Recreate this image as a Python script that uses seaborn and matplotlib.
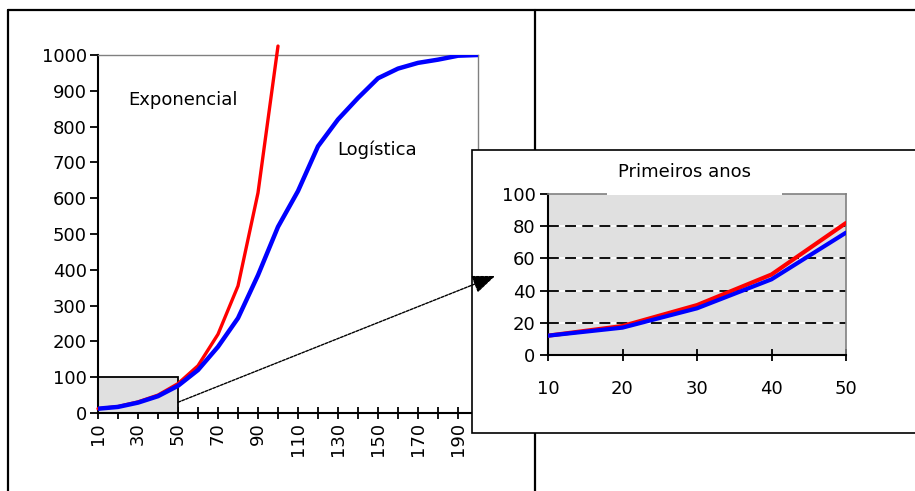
import matplotlib
matplotlib.use('Agg')
import matplotlib.pyplot as plt
from matplotlib.patches import Rectangle, ConnectionPatch
from matplotlib.lines import Line2D
import seaborn as sns

# dados
anos = [10, 20, 30, 40, 50, 60, 70, 80, 90, 100,
        110, 120, 130, 140, 150, 160, 170, 180, 190, 200]
logistica = [12, 17, 29, 47, 76, 120, 185, 265, 385, 520,
             620, 745, 820, 880, 935, 962, 978, 987, 998, 1000]
anos_exp = [10, 20, 30, 40, 50, 60, 70, 80, 90, 100]
exponencial = [12, 18, 31, 50, 82, 132, 220, 355, 615, 1025]

anos_ini = [10, 20, 30, 40, 50]
logistica_ini = [12, 17, 29, 47, 76]
exponencial_ini = [12, 18, 31, 50, 82]

sns.set_style('white')
plt.rcParams['font.family'] = ['DejaVu Sans']
plt.rcParams['text.color'] = 'black'
plt.rcParams['xtick.color'] = 'black'
plt.rcParams['ytick.color'] = 'black'

W, H = 915, 491
fig = plt.figure(figsize=(W / 100, H / 100), dpi=100)


def fx(px):
    return px / W


def fy(py):
    return 1 - py / H


# molduras
for xs, ys in [([8, 8], [10, 495]), ([8, 920], [10, 10]), ([535, 535], [10, 495])]:
    fig.add_artist(Line2D([fx(v) for v in xs], [fy(v) for v in ys], color='black',
                          lw=1.6, transform=fig.transFigure, zorder=0.5))

# grafico principal
ax = fig.add_axes([fx(98), fy(413), fx(478) - fx(98), fy(55) - fy(413)])
ax.set_zorder(0)
ax.add_patch(Rectangle((10, 0), 40, 100, facecolor='#e0e0e0', edgecolor='black', lw=1.3, zorder=1))
sns.lineplot(x=anos_exp, y=exponencial, color='#ff0000', lw=2.4, ax=ax, clip_on=False, zorder=3)
sns.lineplot(x=anos, y=logistica, color='#0000ff', lw=3.2, ax=ax, zorder=4)
ax.set_xlim(10, 200)
ax.set_ylim(0, 1000)
ax.set_xticks(range(10, 200, 20))
ax.set_xticks(range(20, 201, 20), minor=True)
ax.set_yticks(range(0, 1001, 100))
ax.tick_params(axis='x', which='both', bottom=True, direction='inout', length=9, width=1.3,
               labelrotation=90, labelsize=13, pad=2)
ax.tick_params(axis='y', left=True, direction='out', length=6, width=1.3, labelsize=13, pad=2)
ax.set_xlabel('')
ax.set_ylabel('')
for s in ['left', 'bottom']:
    ax.spines[s].set_color('black')
    ax.spines[s].set_linewidth(1.5)
for s in ['top', 'right']:
    ax.spines[s].set_color('#808080')
    ax.spines[s].set_linewidth(1)
ax.text(25, 874, 'Exponencial', fontsize=13, va='center')
ax.text(129.5, 735, 'Logística', fontsize=13, va='center')

# caixa do detalhe
fig.add_artist(Rectangle((fx(472), fy(433)), fx(920) - fx(472), fy(150) - fy(433),
                         transform=fig.transFigure, facecolor='white', edgecolor='black',
                         lw=1.2, zorder=1))

ax2 = fig.add_axes([fx(548), fy(355), fx(846) - fx(548), fy(194) - fy(355)])
ax2.set_zorder(2)
ax2.set_facecolor('#e0e0e0')
for v in [20, 40, 60, 80]:
    ax2.axhline(v, color='black', lw=1.3, ls=(0, (6, 3.5)), gapcolor='white', zorder=1)
sns.lineplot(x=anos_ini, y=exponencial_ini, color='#ff0000', lw=3, ax=ax2, zorder=3)
sns.lineplot(x=anos_ini, y=logistica_ini, color='#0000ff', lw=3, ax=ax2, zorder=4)
ax2.set_xlim(10, 50)
ax2.set_ylim(0, 100)
ax2.set_xticks(anos_ini)
ax2.set_yticks(range(0, 101, 20))
ax2.tick_params(axis='x', bottom=True, direction='inout', length=8, width=1.3, labelsize=13,
                pad=14)
ax2.tick_params(axis='y', left=True, direction='out', length=6, width=1.3, labelsize=13, pad=3)
ax2.set_xlabel('')
ax2.set_ylabel('')
for s in ['left', 'bottom']:
    ax2.spines[s].set_color('black')
    ax2.spines[s].set_linewidth(1.5)
for s in ['top', 'right']:
    ax2.spines[s].set_color('#808080')
    ax2.spines[s].set_linewidth(1.2)

fig.add_artist(Rectangle((fx(607), fy(195.5)), fx(782) - fx(607), fy(192.5) - fy(195.5),
                         transform=fig.transFigure, facecolor='white', edgecolor='none', zorder=3))
fig.text(fx(684), fy(172), 'Primeiros anos', ha='center', va='center', fontsize=13, zorder=4)

# seta
seta = ConnectionPatch(xyA=(50, 30), coordsA=ax.transData, xyB=(495, H - 276),
                       coordsB='figure pixels', arrowstyle='-|>,head_length=1.0,head_width=0.4',
                       mutation_scale=14, lw=1, ls=(0, (2, 1)), color='black', zorder=5)
fig.add_artist(seta)

plt.savefig('out.png', dpi=100)
